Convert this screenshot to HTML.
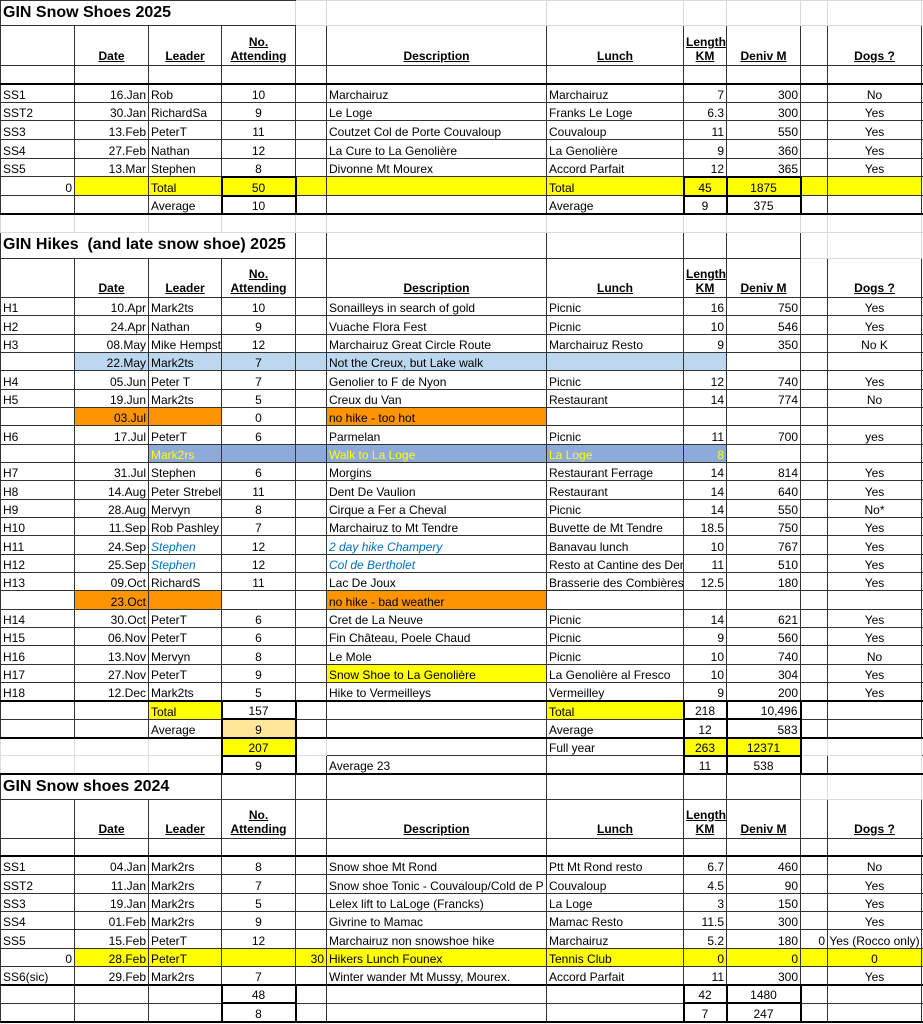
<!DOCTYPE html>
<html><head><meta charset="utf-8"><style>
html,body{margin:0;padding:0;background:#fff;width:923px;height:1024px;overflow:hidden}
table{border-collapse:collapse;table-layout:fixed;width:923px;font-family:"Liberation Sans",sans-serif;font-size:12px;color:#000;position:absolute;left:0;top:0}
td{border:1px solid #333;padding:0 2px;white-space:nowrap;overflow:hidden;line-height:14px;vertical-align:bottom}
td:last-child{padding:0}
tr.s td{border-color:#d9d9d9}
tr.t td{font-weight:bold;font-size:16px;border-color:#d9d9d9;vertical-align:middle}
tr.t td.tt{border:1px solid #333;border-right:none}
tr.h td{font-weight:bold;text-decoration:underline;text-align:center;vertical-align:bottom;padding-bottom:2px}
tr.b td{border-bottom:2px solid #000}
.r{text-align:right}.c{text-align:center}
.y{background:#ffff00}.lb{background:#bdd7ee}.bl{background:#8eaadb;color:#ffff00}.o{background:#fd9400}.lo{background:#ffe699}
.i{color:#0070c0;font-style:italic}
.tk{border:2px solid #000}
</style></head><body>
<table>
<colgroup><col style="width:74px"><col style="width:74px"><col style="width:73px"><col style="width:74px"><col style="width:31px"><col style="width:220px"><col style="width:137px"><col style="width:43px"><col style="width:74px"><col style="width:27px"><col style="width:94px"><col style="width:2px"></colgroup>
<tr class="t" style="height:25px"><td colspan="4" class="tt">GIN Snow Shoes 2025</td><td></td><td></td><td></td><td></td><td></td><td></td><td></td><td></td></tr>
<tr class="h" style="height:40px"><td></td><td>Date</td><td>Leader</td><td>No.<br>Attending</td><td></td><td>Description</td><td>Lunch</td><td>Length<br>KM</td><td>Deniv M</td><td></td><td>Dogs ?</td><td></td></tr>
<tr class="b" style="height:18px"><td></td><td></td><td></td><td></td><td></td><td></td><td></td><td></td><td></td><td></td><td></td><td></td></tr>
<tr style="height:18.7px"><td>SS1</td><td class="r">16.Jan</td><td>Rob</td><td class="c">10</td><td></td><td>Marchairuz</td><td>Marchairuz</td><td class="r">7</td><td class="r">300</td><td></td><td class="c">No</td><td></td></tr>
<tr style="height:18.7px"><td>SST2</td><td class="r">30.Jan</td><td>RichardSa</td><td class="c">9</td><td></td><td>Le Loge</td><td>Franks Le Loge</td><td class="r">6.3</td><td class="r">300</td><td></td><td class="c">Yes</td><td></td></tr>
<tr style="height:18.7px"><td>SS3</td><td class="r">13.Feb</td><td>PeterT</td><td class="c">11</td><td></td><td>Coutzet Col de Porte Couvaloup</td><td>Couvaloup</td><td class="r">11</td><td class="r">550</td><td></td><td class="c">Yes</td><td></td></tr>
<tr style="height:18.7px"><td>SS4</td><td class="r">27.Feb</td><td>Nathan</td><td class="c">12</td><td></td><td>La Cure to La Genolière</td><td>La Genolière</td><td class="r">9</td><td class="r">360</td><td></td><td class="c">Yes</td><td></td></tr>
<tr style="height:18.7px"><td>SS5</td><td class="r">13.Mar</td><td>Stephen</td><td class="c">8</td><td></td><td>Divonne Mt Mourex</td><td>Accord Parfait</td><td class="r">12</td><td class="r">365</td><td></td><td class="c">Yes</td><td></td></tr>
<tr style="height:18.7px"><td class="r">0</td><td class="y"></td><td class="y">Total</td><td class="y c tk">50</td><td class="y"></td><td class="y"></td><td class="y">Total</td><td class="y c tk">45</td><td class="y c tk">1875</td><td class="y"></td><td class="y"></td><td></td></tr>
<tr class="b" style="height:18.7px"><td></td><td></td><td>Average</td><td class="c tk">10</td><td></td><td></td><td>Average</td><td class="c tk">9</td><td class="c tk">375</td><td></td><td></td><td></td></tr>
<tr class="s" style="height:18px"><td></td><td></td><td></td><td></td><td></td><td></td><td></td><td></td><td></td><td></td><td></td><td></td></tr>
<tr class="t" style="height:26px"><td colspan="4" class="tt" style="border-right:1px solid #333">GIN Hikes&nbsp; (and late snow shoe) 2025</td><td style="border-color:#333"></td><td style="border-color:#333"></td><td style="border-color:#333"></td><td style="border-color:#333"></td><td style="border-color:#333"></td><td></td><td></td><td></td></tr>
<tr class="h" style="height:39px"><td></td><td>Date</td><td>Leader</td><td>No.<br>Attending</td><td></td><td>Description</td><td>Lunch</td><td>Length<br>KM</td><td>Deniv M</td><td></td><td>Dogs ?</td><td></td></tr>
<tr style="height:18.35px"><td>H1</td><td class="r">10.Apr</td><td>Mark2ts</td><td class="c">10</td><td></td><td>Sonailleys in search of gold</td><td>Picnic</td><td class="r">16</td><td class="r">750</td><td></td><td class="c">Yes</td><td></td></tr>
<tr style="height:18.35px"><td>H2</td><td class="r">24.Apr</td><td>Nathan</td><td class="c">9</td><td></td><td>Vuache Flora Fest</td><td>Picnic</td><td class="r">10</td><td class="r">546</td><td></td><td class="c">Yes</td><td></td></tr>
<tr style="height:18.35px"><td>H3</td><td class="r">08.May</td><td>Mike Hempstead</td><td class="c">12</td><td></td><td>Marchairuz Great Circle Route</td><td>Marchairuz Resto</td><td class="r">9</td><td class="r">350</td><td></td><td class="c">No K</td><td></td></tr>
<tr style="height:18.35px"><td></td><td class="r lb">22.May</td><td class="lb">Mark2ts</td><td class="c lb">7</td><td class="lb"></td><td class="lb">Not the Creux, but Lake walk</td><td class="lb"></td><td class="lb"></td><td></td><td></td><td></td><td></td></tr>
<tr style="height:18.35px"><td>H4</td><td class="r">05.Jun</td><td>Peter T</td><td class="c">7</td><td></td><td>Genolier to F de Nyon</td><td>Picnic</td><td class="r">12</td><td class="r">740</td><td></td><td class="c">Yes</td><td></td></tr>
<tr style="height:18.35px"><td>H5</td><td class="r">19.Jun</td><td>Mark2ts</td><td class="c">5</td><td></td><td>Creux du Van</td><td>Restaurant</td><td class="r">14</td><td class="r">774</td><td></td><td class="c">No</td><td></td></tr>
<tr style="height:18.35px"><td></td><td class="r o">03.Jul</td><td class="o"></td><td class="c">0</td><td></td><td class="o">no hike - too hot</td><td></td><td></td><td></td><td></td><td></td><td></td></tr>
<tr style="height:18.35px"><td>H6</td><td class="r">17.Jul</td><td>PeterT</td><td class="c">6</td><td></td><td>Parmelan</td><td>Picnic</td><td class="r">11</td><td class="r">700</td><td></td><td class="c">yes</td><td></td></tr>
<tr style="height:18.35px"><td></td><td></td><td class="bl">Mark2rs</td><td class="bl"></td><td class="bl"></td><td class="bl">Walk to La Loge</td><td class="bl">La Loge</td><td class="r bl">8</td><td></td><td></td><td></td><td></td></tr>
<tr style="height:18.35px"><td>H7</td><td class="r">31.Jul</td><td>Stephen</td><td class="c">6</td><td></td><td>Morgins</td><td>Restaurant Ferrage</td><td class="r">14</td><td class="r">814</td><td></td><td class="c">Yes</td><td></td></tr>
<tr style="height:18.35px"><td>H8</td><td class="r">14.Aug</td><td>Peter Strebel</td><td class="c">11</td><td></td><td>Dent De Vaulion</td><td>Restaurant</td><td class="r">14</td><td class="r">640</td><td></td><td class="c">Yes</td><td></td></tr>
<tr style="height:18.35px"><td>H9</td><td class="r">28.Aug</td><td>Mervyn</td><td class="c">8</td><td></td><td>Cirque a Fer a Cheval</td><td>Picnic</td><td class="r">14</td><td class="r">550</td><td></td><td class="c">No*</td><td></td></tr>
<tr style="height:18.35px"><td>H10</td><td class="r">11.Sep</td><td>Rob Pashley</td><td class="c">7</td><td></td><td>Marchairuz to Mt Tendre</td><td>Buvette de Mt Tendre</td><td class="r">18.5</td><td class="r">750</td><td></td><td class="c">Yes</td><td></td></tr>
<tr style="height:18.35px"><td>H11</td><td class="r">24.Sep</td><td class="i">Stephen</td><td class="c">12</td><td></td><td class="i">2 day hike Champery</td><td>Banavau lunch</td><td class="r">10</td><td class="r">767</td><td></td><td class="c">Yes</td><td></td></tr>
<tr style="height:18.35px"><td>H12</td><td class="r">25.Sep</td><td class="i">Stephen</td><td class="c">12</td><td></td><td class="i">Col de Bertholet</td><td>Resto at Cantine des Dents</td><td class="r">11</td><td class="r">510</td><td></td><td class="c">Yes</td><td></td></tr>
<tr style="height:18.35px"><td>H13</td><td class="r">09.Oct</td><td>RichardS</td><td class="c">11</td><td></td><td>Lac De Joux</td><td>Brasserie des Combières</td><td class="r">12.5</td><td class="r">180</td><td></td><td class="c">Yes</td><td></td></tr>
<tr style="height:18.35px"><td></td><td class="r o">23.Oct</td><td class="o"></td><td></td><td></td><td class="o">no hike - bad weather</td><td></td><td></td><td></td><td></td><td></td><td></td></tr>
<tr style="height:18.35px"><td>H14</td><td class="r">30.Oct</td><td>PeterT</td><td class="c">6</td><td></td><td>Cret de La Neuve</td><td>Picnic</td><td class="r">14</td><td class="r">621</td><td></td><td class="c">Yes</td><td></td></tr>
<tr style="height:18.35px"><td>H15</td><td class="r">06.Nov</td><td>PeterT</td><td class="c">6</td><td></td><td>Fin Château, Poele Chaud</td><td>Picnic</td><td class="r">9</td><td class="r">560</td><td></td><td class="c">Yes</td><td></td></tr>
<tr style="height:18.35px"><td>H16</td><td class="r">13.Nov</td><td>Mervyn</td><td class="c">8</td><td></td><td>Le Mole</td><td>Picnic</td><td class="r">10</td><td class="r">740</td><td></td><td class="c">No</td><td></td></tr>
<tr style="height:18.35px"><td>H17</td><td class="r">27.Nov</td><td>PeterT</td><td class="c">9</td><td></td><td class="y">Snow Shoe to La Genolière</td><td>La Genolière al Fresco</td><td class="r">10</td><td class="r">304</td><td></td><td class="c">Yes</td><td></td></tr>
<tr class="b" style="height:18.35px"><td>H18</td><td class="r">12.Dec</td><td>Mark2ts</td><td class="c">5</td><td></td><td>Hike to Vermeilleys</td><td>Vermeilley</td><td class="r">9</td><td class="r">200</td><td></td><td class="c">Yes</td><td></td></tr>
<tr style="height:18.35px"><td></td><td></td><td class="y">Total</td><td class="c tk">157</td><td></td><td></td><td class="y">Total</td><td class="c tk">218</td><td class="r tk">10,496</td><td></td><td></td><td></td></tr>
<tr class="b" style="height:18.35px"><td></td><td></td><td>Average</td><td class="c lo tk">9</td><td></td><td></td><td>Average</td><td class="c tk">12</td><td class="r tk">583</td><td></td><td></td><td></td></tr>
<tr style="height:18.35px"><td style="border-color:#ddd"></td><td style="border-color:#ddd"></td><td style="border-color:#ddd"></td><td class="c y tk">207</td><td style="border-color:#ddd"></td><td></td><td>Full year</td><td class="c y tk">263</td><td class="c y tk">12371</td><td style="border-color:#ddd"></td><td style="border-color:#ddd"></td><td></td></tr>
<tr class="b" style="height:18.35px"><td style="border-color:#ddd;border-bottom:2px solid #000"></td><td style="border-color:#ddd;border-bottom:2px solid #000"></td><td style="border-color:#ddd;border-bottom:2px solid #000"></td><td class="c tk">9</td><td></td><td>Average 23</td><td></td><td class="c tk">11</td><td class="c tk">538</td><td></td><td style="border-color:#ddd;border-bottom:2px solid #000"></td><td></td></tr>
<tr class="t" style="height:25px"><td colspan="3" class="tt">GIN Snow shoes 2024</td><td style="border-color:#333"></td><td style="border-color:#333"></td><td style="border-color:#333"></td><td style="border-color:#333"></td><td style="border-color:#333"></td><td style="border-color:#333"></td><td></td><td></td><td></td></tr>
<tr class="h" style="height:39px"><td></td><td>Date</td><td>Leader</td><td>No.<br>Attending</td><td></td><td>Description</td><td>Lunch</td><td>Length<br>KM</td><td>Deniv M</td><td></td><td>Dogs ?</td><td></td></tr>
<tr class="b" style="height:18px"><td></td><td></td><td></td><td></td><td></td><td></td><td></td><td></td><td></td><td></td><td></td><td></td></tr>
<tr style="height:18.4px"><td>SS1</td><td class="r">04.Jan</td><td>Mark2rs</td><td class="c">8</td><td></td><td>Snow shoe Mt Rond</td><td>Ptt Mt Rond resto</td><td class="r">6.7</td><td class="r">460</td><td></td><td class="c">No</td><td></td></tr>
<tr style="height:18.4px"><td>SST2</td><td class="r">11.Jan</td><td>Mark2rs</td><td class="c">7</td><td></td><td>Snow shoe Tonic - Couvaloup/Cold de P</td><td>Couvaloup</td><td class="r">4.5</td><td class="r">90</td><td></td><td class="c">Yes</td><td></td></tr>
<tr style="height:18.4px"><td>SS3</td><td class="r">19.Jan</td><td>Mark2rs</td><td class="c">5</td><td></td><td>Lelex lift to LaLoge (Francks)</td><td>La Loge</td><td class="r">3</td><td class="r">150</td><td></td><td class="c">Yes</td><td></td></tr>
<tr style="height:18.4px"><td>SS4</td><td class="r">01.Feb</td><td>Mark2rs</td><td class="c">9</td><td></td><td>Givrine to Mamac</td><td>Mamac Resto</td><td class="r">11.5</td><td class="r">300</td><td></td><td class="c">Yes</td><td></td></tr>
<tr style="height:18.4px"><td>SS5</td><td class="r">15.Feb</td><td>PeterT</td><td class="c">12</td><td></td><td>Marchairuz non snowshoe hike</td><td>Marchairuz</td><td class="r">5.2</td><td class="r">180</td><td class="r">0</td><td class="c" style="padding:0">Yes (Rocco only)</td><td></td></tr>
<tr style="height:18.4px"><td class="r">0</td><td class="r y">28.Feb</td><td class="y">PeterT</td><td class="y"></td><td class="r y">30</td><td class="y">Hikers Lunch Founex</td><td class="y">Tennis Club</td><td class="r y">0</td><td class="r y">0</td><td class="y"></td><td class="c y">0</td><td class="y"></td></tr>
<tr class="b" style="height:18.4px"><td>SS6(sic)</td><td class="r">29.Feb</td><td>Mark2rs</td><td class="c">7</td><td></td><td>Winter wander Mt Mussy, Mourex.</td><td>Accord Parfait</td><td class="r">11</td><td class="r">300</td><td></td><td class="c">Yes</td><td></td></tr>
<tr style="height:18.4px"><td></td><td></td><td></td><td class="c tk">48</td><td></td><td></td><td></td><td class="c tk">42</td><td class="c tk">1480</td><td></td><td></td><td></td></tr>
<tr class="b" style="height:18.4px"><td></td><td></td><td></td><td class="c tk">8</td><td></td><td></td><td></td><td class="c tk">7</td><td class="c tk">247</td><td></td><td></td><td></td></tr>
</table>
</body></html>
